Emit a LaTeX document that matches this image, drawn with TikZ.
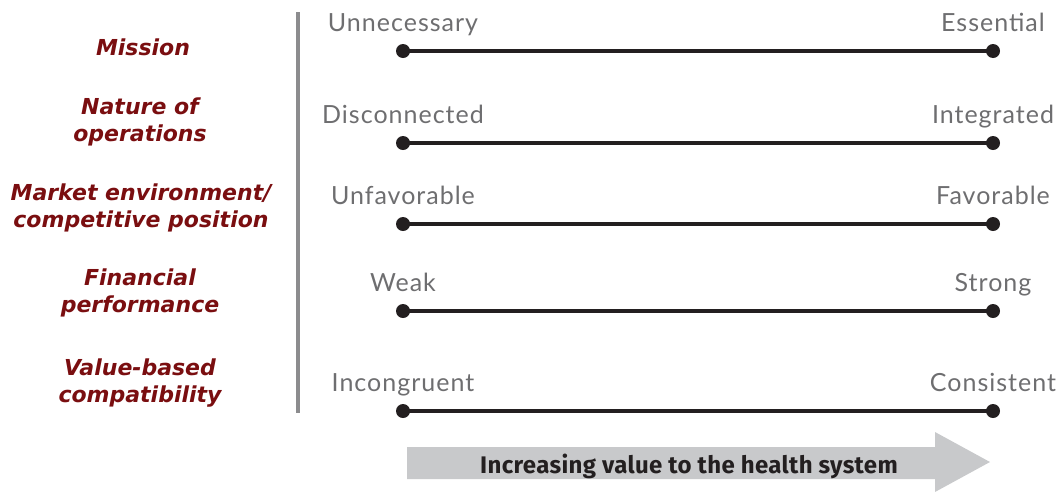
\documentclass[tikz,border=0pt]{standalone}
\usepackage{fontspec}
\setmainfont{Lato}[LetterSpace=4]
\newfontfamily\factorfont{DejaVu Sans}
\newfontfamily\arrowfont{Fira Sans}[LetterSpace=1.5]
\definecolor{factorred}{RGB}{122,14,16}
\definecolor{endgray}{RGB}{110,110,112}
\definecolor{rulegray}{RGB}{140,140,142}
\definecolor{scaleblack}{RGB}{35,31,32}
\definecolor{arrowgray}{RGB}{200,201,203}
\tikzset{
  factor/.style={align=center, text=factorred, font=\factorfont\fontsize{22}{27}\selectfont\bfseries\itshape, inner sep=0pt},
  endlabel/.style={text=endgray, font=\fontsize{25}{29}\selectfont, inner sep=0pt},
  scaleline/.style={draw=scaleblack, line width=3.2pt},
  enddot/.style={circle, fill=scaleblack, minimum size=14pt, inner sep=0pt},
}
\begin{document}
\begin{tikzpicture}[x=1pt, y=-1pt]
\useasboundingbox (0,0) rectangle (1059,491);

% factor names on the left
\node[factor] (f1) at (143,47) {Mission};
\node[factor] (f2) at (140,122) {Nature of\\operations};
\node[factor] (f3) at (141,208) {Market environment/\\competitive position};
\node[factor] (f4) at (140,293) {Financial\\performance};
\node[factor] (f5) at (140,383) {Value-based\\compatibility};

% separator rule
\coordinate (rtop) at (298,12);
\coordinate (rbot) at (298,413);
\draw[rulegray, line width=4pt] (rtop) -- (rbot);

% scales: left dot, right dot, labels centred over the dots
\foreach \i/\y/\lo/\hi in {1/51/Unnecessary/Essential,
                           2/143/Disconnected/Integrated,
                           3/224/Unfavorable/Favorable,
                           4/311/Weak/Strong,
                           5/411/Incongruent/Consistent}{
  \node[enddot] (l\i) at (403,\y) {};
  \node[enddot] (r\i) at (993,\y) {};
  \draw[scaleline] (l\i.center) -- (r\i.center);
  \node[endlabel, anchor=base] (lt\i) at (403,\y-19.5) {\lo};
  \node[endlabel, anchor=base] (rt\i) at (993,\y-19.5) {\hi};
}

% direction arrow
\fill[arrowgray] (407,447) -- (935,447) -- (935,432) -- (990,462)
  -- (935,492) -- (935,479) -- (407,479) -- cycle;
\node[font=\arrowfont\fontsize{24}{28}\selectfont\bfseries, text=scaleblack, inner sep=0pt, anchor=base] (arrowtext) at (689,473) {Increasing value to the health system};
\end{tikzpicture}
\end{document}
